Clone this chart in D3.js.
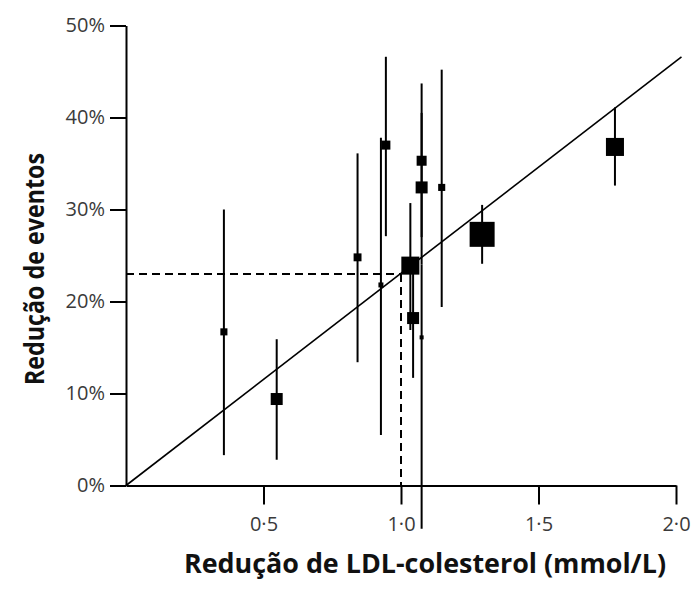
<!DOCTYPE html>
<html>
<head>
<meta charset="utf-8">
<script src="https://cdn.jsdelivr.net/npm/d3@7"></script>
<style>
  html, body { margin: 0; padding: 0; background: #fff; }
  svg { display: block; }
</style>
</head>
<body>
<svg id="chart" width="694" height="589"></svg>
<script>
// ---- data ----
const ldlReduction   = [0.356, 0.548, 0.842, 0.927, 0.945, 1.034, 1.044, 1.075, 1.075, 1.075, 1.148, 1.295, 1.778];
const eventReduction = [16.7,  9.4,   24.8,  21.8,  37.0,  23.9,  18.2,  35.3,  32.4,  16.1,  32.4,  27.3,  36.8];
const ciLower        = [3.3,   2.8,   13.4,  5.5,   27.1,  16.9,  11.7,  27.0,  24.0,  -4.7,  19.4,  24.1,  32.6];
const ciUpper        = [30.0,  15.9,  36.1,  37.8,  46.6,  30.7,  24.5,  43.7,  40.5,  24.0,  45.2,  30.5,  41.1];
const weights        = [8,     23,    10,    4,     13,    52,    23,    16,    23,    2.6,   8,     100,   52];
const xTicks = [0.5, 1.0, 1.5, 2.0];
const yTicks = [0, 10, 20, 30, 40, 50];
const regressionLine = [[0, 0], [2.02, 46.6]];
const referenceLdl = 1.0;
const referenceEvent = 23.0;
const xTitle = "Redução de LDL-colesterol (mmol/L)";
const yTitle = "Redução de eventos";

// ---- layout ----
const svg = d3.select("#chart");
const x = d3.scaleLinear().domain([0, 2]).range([126, 676]);
const y = d3.scaleLinear().domain([0, 50]).range([485.5, 25.5]);
const side = d3.scaleSqrt().domain([0, 100]).range([0, 25]);
const labelFont = "'Open Sans', 'Noto Sans', sans-serif";

// axes
const yAxis = d3.axisLeft(y).tickValues(yTicks).tickSize(16).tickSizeOuter(0).tickPadding(5)
  .tickFormat(d => d + "%");
const gy = svg.append("g").attr("transform", `translate(${x(0)},0)`).call(yAxis);

const xAxis = d3.axisBottom(x).tickValues(xTicks).tickSize(19).tickSizeOuter(0).tickPadding(12)
  .tickFormat(d => d3.format(".1f")(d).replace(".", "·"));
const gx = svg.append("g").attr("transform", `translate(0,${y(0)})`).call(xAxis);

[gx, gy].forEach(g => {
  g.selectAll("path.domain").attr("stroke", "#000").attr("stroke-width", 2);
  g.selectAll(".tick line").attr("stroke", "#000").attr("stroke-width", 2);
  g.selectAll(".tick text").attr("fill", "#3a3a3a").style("font-family", labelFont).style("font-size", "20px");
});

// reference dashed lines
svg.append("line")
  .attr("x1", x(0)).attr("x2", x(referenceLdl))
  .attr("y1", y(referenceEvent)).attr("y2", y(referenceEvent))
  .attr("stroke", "#000").attr("stroke-width", 2).attr("stroke-dasharray", "8,5");
svg.append("line")
  .attr("x1", x(referenceLdl)).attr("x2", x(referenceLdl))
  .attr("y1", y(referenceEvent)).attr("y2", y(0))
  .attr("stroke", "#000").attr("stroke-width", 2).attr("stroke-dasharray", "8,5");

// regression line
svg.append("line")
  .attr("x1", x(regressionLine[0][0])).attr("y1", y(regressionLine[0][1]))
  .attr("x2", x(regressionLine[1][0])).attr("y2", y(regressionLine[1][1]))
  .attr("stroke", "#000").attr("stroke-width", 1.6);

// error bars
const idx = d3.range(ldlReduction.length);
svg.append("g").selectAll("line").data(idx).join("line")
  .attr("x1", i => x(ldlReduction[i])).attr("x2", i => x(ldlReduction[i]))
  .attr("y1", i => y(ciUpper[i])).attr("y2", i => y(ciLower[i]))
  .attr("stroke", "#000").attr("stroke-width", 2);

// squares
svg.append("g").selectAll("rect").data(idx).join("rect")
  .attr("x", i => x(ldlReduction[i]) - side(weights[i]) / 2)
  .attr("y", i => y(eventReduction[i]) - side(weights[i]) / 2)
  .attr("width", i => side(weights[i]))
  .attr("height", i => side(weights[i]))
  .attr("fill", "#000");

// titles
svg.append("text")
  .attr("x", 425).attr("y", 573)
  .attr("text-anchor", "middle")
  .attr("textLength", 482).attr("lengthAdjust", "spacingAndGlyphs")
  .style("font-family", labelFont).style("font-weight", "bold").style("font-size", "26px")
  .attr("fill", "#111")
  .text(xTitle);
svg.append("text")
  .attr("transform", "translate(44,269) rotate(-90)")
  .attr("text-anchor", "middle")
  .attr("textLength", 232).attr("lengthAdjust", "spacingAndGlyphs")
  .style("font-family", labelFont).style("font-weight", "bold").style("font-size", "26px")
  .attr("fill", "#111")
  .text(yTitle);
</script>
</body>
</html>
